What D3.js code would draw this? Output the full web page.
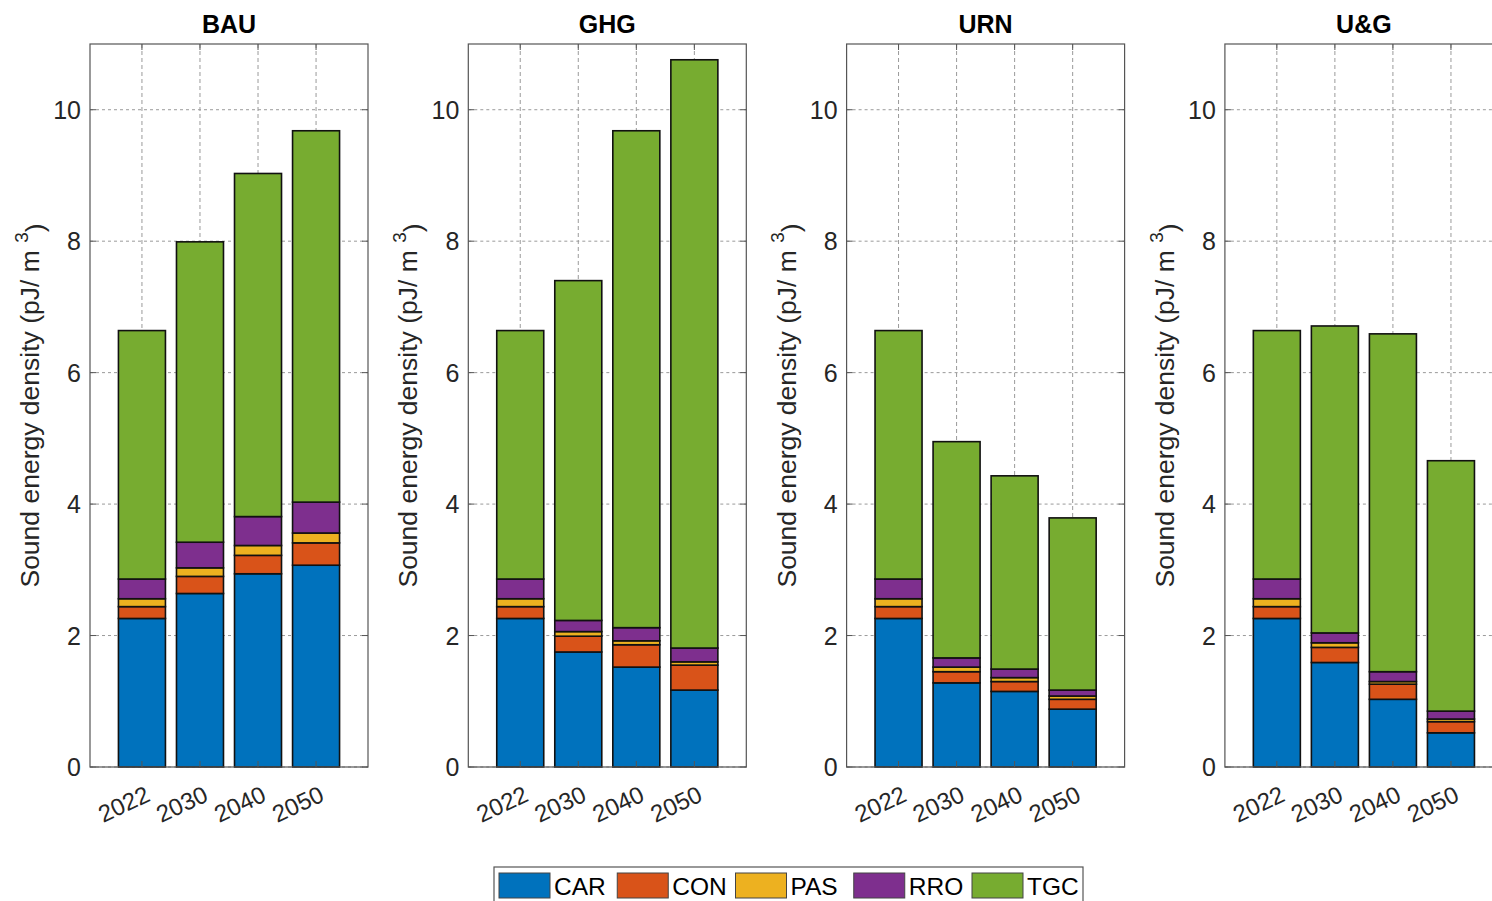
<!DOCTYPE html>
<html>
<head>
<meta charset="utf-8">
<script src="https://cdn.jsdelivr.net/npm/d3@7"></script>
<style>
  body { margin: 0; background: #fff; overflow: hidden; }
  svg { font-family: Arial, "Liberation Sans", sans-serif; display: block; }
</style>
</head>
<body>
<script>
///////////////////////////////////////////////DATA//////////////////////////////////////////////////
var scenarios = ["BAU", "GHG", "URN", "U&G"];
var years = ["2022", "2030", "2040", "2050"];
var sources = ["CAR", "CON", "PAS", "RRO", "TGC"];
var colors = ["#0072BD", "#D95319", "#EDB120", "#7E2F8E", "#77AC30"];
var yTicks = [0, 2, 4, 6, 8, 10];

// one row per scenario, one value per year
var car = [[2.26, 2.64, 2.94, 3.07], [2.26, 1.75, 1.52, 1.17], [2.26, 1.28, 1.15, 0.88], [2.26, 1.59, 1.03, 0.52]];
var con = [[0.18, 0.26, 0.28, 0.34], [0.18, 0.24, 0.34, 0.38], [0.18, 0.17, 0.15, 0.15], [0.18, 0.23, 0.23, 0.17]];
var pas = [[0.12, 0.13, 0.15, 0.15], [0.12, 0.07, 0.06, 0.05], [0.12, 0.07, 0.06, 0.05], [0.12, 0.07, 0.04, 0.04]];
var rro = [[0.30, 0.39, 0.44, 0.47], [0.30, 0.17, 0.20, 0.21], [0.30, 0.14, 0.13, 0.09], [0.30, 0.15, 0.15, 0.12]];
var tgc = [[3.78, 4.57, 5.22, 5.65], [3.78, 5.17, 7.56, 8.95], [3.78, 3.29, 2.94, 2.62], [3.78, 4.67, 5.14, 3.81]];
var series = [car, con, pas, rro, tgc];

///////////////////////////////////////////////LAYOUT////////////////////////////////////////////////
var width = 1492,
    height = 901,
    panelLeft = 90,
    panelStep = 378.3,
    panelW = 278,
    axTop = 44,
    axBottom = 767,
    tickLen = 6,
    axisColor = "#555",
    gridColor = "#9a9a9a";

var svg = d3.select("body").append("svg")
    .attr("width", width)
    .attr("height", height);

var y = d3.scaleLinear().domain([0, 11]).range([axBottom, axTop]);

scenarios.forEach(function (name, s) {
    var x0 = panelLeft + s * panelStep;
    var x = d3.scaleBand().domain(years)
        .range([x0, x0 + panelW])
        .paddingInner(0.19)
        .paddingOuter(0.49);

    var g = svg.append("g");

    // rows for the stack
    var rows = years.map(function (yr, i) {
        var r = { year: yr };
        sources.forEach(function (src, k) { r[src] = series[k][s][i]; });
        return r;
    });
    var stacked = d3.stack().keys(sources)(rows);

    // grid
    g.selectAll(".hgrid").data(yTicks).enter().append("line")
        .attr("x1", x0).attr("x2", x0 + panelW)
        .attr("y1", function (d) { return y(d); })
        .attr("y2", function (d) { return y(d); })
        .attr("stroke", gridColor)
        .attr("stroke-width", 1)
        .attr("stroke-dasharray", "3,3");
    g.selectAll(".vgrid").data(years).enter().append("line")
        .attr("x1", function (d) { return x(d) + x.bandwidth() / 2; })
        .attr("x2", function (d) { return x(d) + x.bandwidth() / 2; })
        .attr("y1", axTop).attr("y2", axBottom)
        .attr("stroke", gridColor)
        .attr("stroke-width", 1)
        .attr("stroke-dasharray", "4,3");

    // bars
    g.selectAll(".layer").data(stacked).enter().append("g")
        .attr("fill", function (d, k) { return colors[k]; })
        .selectAll("rect")
        .data(function (d) { return d; })
        .enter().append("rect")
        .attr("x", function (d) { return x(d.data.year); })
        .attr("width", x.bandwidth())
        .attr("y", function (d) { return y(d[1]); })
        .attr("height", function (d) { return y(d[0]) - y(d[1]); })
        .attr("stroke", "#111")
        .attr("stroke-width", 1.6);

    // box
    g.append("rect")
        .attr("x", x0).attr("y", axTop)
        .attr("width", panelW).attr("height", axBottom - axTop)
        .attr("fill", "none")
        .attr("stroke", axisColor)
        .attr("stroke-width", 1.2);

    // y ticks (inside, both sides)
    yTicks.forEach(function (t) {
        g.append("line").attr("x1", x0).attr("x2", x0 + tickLen)
            .attr("y1", y(t)).attr("y2", y(t)).attr("stroke", axisColor);
        g.append("line").attr("x1", x0 + panelW).attr("x2", x0 + panelW - tickLen)
            .attr("y1", y(t)).attr("y2", y(t)).attr("stroke", axisColor);
        g.append("text")
            .attr("x", x0 - 9)
            .attr("y", y(t))
            .attr("dy", "0.36em")
            .attr("text-anchor", "end")
            .attr("font-size", "25px")
            .attr("fill", "#262626")
            .text(t);
    });

    // x ticks (inside, top and bottom) and rotated labels
    years.forEach(function (yr) {
        var cx = x(yr) + x.bandwidth() / 2;
        g.append("line").attr("x1", cx).attr("x2", cx)
            .attr("y1", axBottom).attr("y2", axBottom - tickLen).attr("stroke", axisColor);
        g.append("line").attr("x1", cx).attr("x2", cx)
            .attr("y1", axTop).attr("y2", axTop + tickLen).attr("stroke", axisColor);
        g.append("text")
            .attr("transform", "translate(" + (cx + 2) + "," + (axBottom + 17) + ") rotate(-25)")
            .attr("text-anchor", "end")
            .attr("dy", "0.75em")
            .attr("font-size", "24px")
            .attr("fill", "#262626")
            .text(yr);
    });

    // title
    g.append("text")
        .attr("x", x0 + panelW / 2)
        .attr("y", 33)
        .attr("text-anchor", "middle")
        .attr("font-size", "25px")
        .attr("font-weight", "bold")
        .attr("fill", "#000")
        .text(name);

    // y label
    var lab = g.append("text")
        .attr("transform", "translate(" + (x0 - 51) + "," + ((axTop + axBottom) / 2) + ") rotate(-90)")
        .attr("text-anchor", "middle")
        .attr("font-size", "26.5px")
        .attr("fill", "#262626");
    lab.append("tspan").text("Sound energy density (pJ/ m ");
    lab.append("tspan").attr("dy", "-0.6em").attr("font-size", "19px").text("3");
    lab.append("tspan").attr("dy", "0.6em").text(")");
});

///////////////////////////////////////////////LEGEND////////////////////////////////////////////////
var legend = svg.append("g");
legend.append("rect")
    .attr("x", 494).attr("y", 867)
    .attr("width", 589).attr("height", 45)
    .attr("fill", "#fff")
    .attr("stroke", axisColor)
    .attr("stroke-width", 1.2);

var legX = d3.scalePoint().domain(sources).range([499, 972]);
var items = legend.selectAll(".item").data(sources).enter().append("g")
    .attr("transform", function (d) { return "translate(" + legX(d) + ",873)"; });
items.append("rect")
    .attr("width", 51).attr("height", 25)
    .attr("fill", function (d, k) { return colors[k]; })
    .attr("stroke", "#444")
    .attr("stroke-width", 1);
items.append("text")
    .attr("x", 55).attr("y", 22)
    .attr("font-size", "24.5px")
    .attr("fill", "#000")
    .text(function (d) { return d; });
</script>
</body>
</html>
